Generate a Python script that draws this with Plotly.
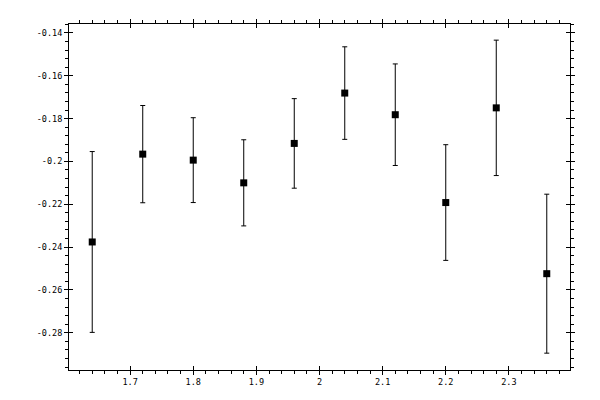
import plotly.graph_objs as go

# dados
x_vals = [1.64, 1.72, 1.80, 1.88, 1.96, 2.04, 2.12, 2.20, 2.28, 2.36]
y_vals = [-0.2376, -0.1966, -0.1994, -0.2100, -0.1916, -0.1681, -0.1782, -0.2192, -0.1750, -0.2524]
y_err = [0.0422, 0.0227, 0.0198, 0.0201, 0.0209, 0.0216, 0.0237, 0.0270, 0.0316, 0.0371]

x_tick_vals = [1.7, 1.8, 1.9, 2.0, 2.1, 2.2, 2.3]
x_tick_text = ['1.7', '1.8', '1.9', '2', '2.1', '2.2', '2.3']
y_tick_vals = [-0.14, -0.16, -0.18, -0.20, -0.22, -0.24, -0.26, -0.28]
y_tick_text = ['-0.14', '-0.16', '-0.18', '-0.2', '-0.22', '-0.24', '-0.26', '-0.28']

x_range = [1.6032, 2.3968]
y_range = [-0.29736, -0.13586]

fig = go.Figure()

fig.add_trace(go.Scatter(
    x=x_vals,
    y=y_vals,
    mode='markers',
    marker=dict(symbol='square', size=7, color='black'),
    error_y=dict(type='data', array=y_err, visible=True,
                 color='black', thickness=1, width=2.5),
    showlegend=False
))

# eixo extra so para a parte interna dos ticks maiores
fig.add_trace(go.Scatter(x=[], y=[], xaxis='x2', yaxis='y2', showlegend=False))

font = dict(family='DejaVu Sans Mono', size=8.5, color='black')

# a pagina tem 8px de margem no body, por isso as margens deslocadas
fig.update_layout(
    width=600, height=400,
    margin=dict(l=61, r=38, t=11, b=38),
    plot_bgcolor='white',
    paper_bgcolor='white',
    font=font,
    xaxis=dict(
        range=x_range, tickmode='array', tickvals=x_tick_vals, ticktext=x_tick_text,
        showgrid=False, zeroline=False, showline=True, linecolor='black', linewidth=1,
        mirror='allticks', ticks='outside', ticklen=4, tickwidth=1, tickcolor='black',
        minor=dict(dtick=0.02, tick0=1.6, ticks='outside', ticklen=3,
                   tickcolor='black', tickwidth=1, showgrid=False),
    ),
    yaxis=dict(
        range=y_range, tickmode='array', tickvals=y_tick_vals, ticktext=y_tick_text,
        showgrid=False, zeroline=False, showline=True, linecolor='black', linewidth=1,
        mirror='allticks', ticks='outside', ticklen=4, tickwidth=1, tickcolor='black',
        minor=dict(dtick=0.004, tick0=-0.3, ticks='outside', ticklen=3,
                   tickcolor='black', tickwidth=1, showgrid=False),
    ),
    xaxis2=dict(
        range=x_range, overlaying='x', anchor='y2', tickmode='array', tickvals=x_tick_vals,
        showticklabels=False, showgrid=False, zeroline=False, showline=False,
        mirror='ticks', ticks='inside', ticklen=4, tickwidth=1, tickcolor='black',
    ),
    yaxis2=dict(
        range=y_range, overlaying='y', anchor='x2', tickmode='array', tickvals=y_tick_vals,
        showticklabels=False, showgrid=False, zeroline=False, showline=False,
        mirror='ticks', ticks='inside', ticklen=4, tickwidth=1, tickcolor='black',
    ),
)

fig.write_html("out.html")
